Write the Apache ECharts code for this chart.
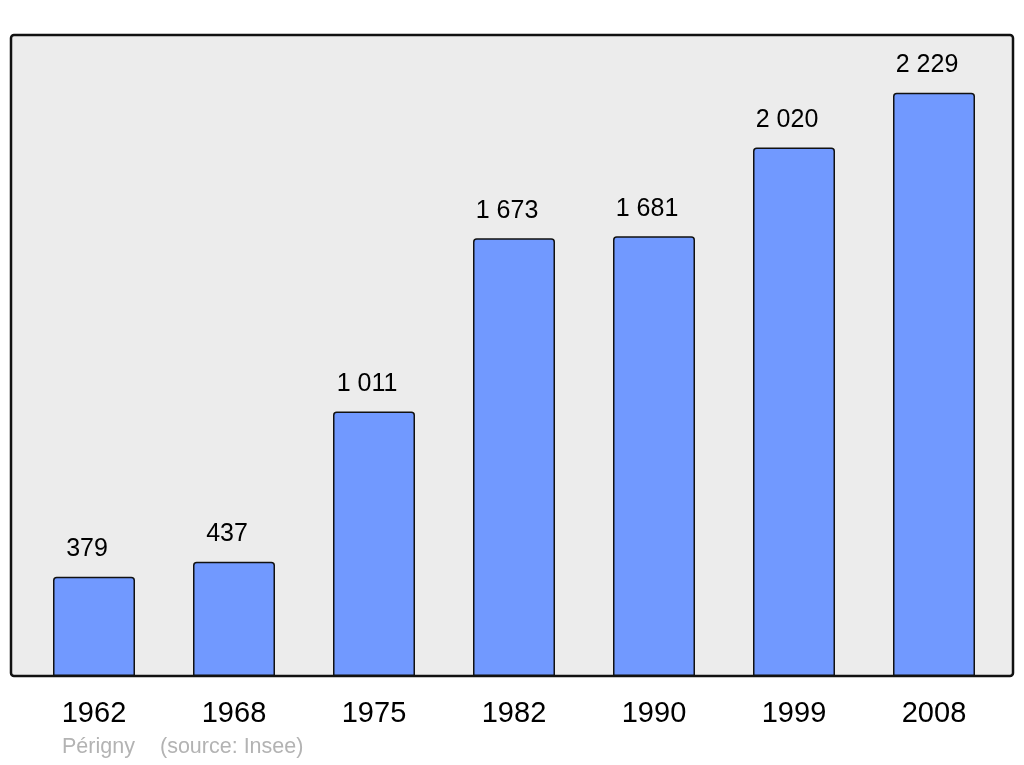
<!DOCTYPE html>
<html><head><meta charset="utf-8">
<script src="https://cdn.jsdelivr.net/npm/echarts@6/dist/echarts.min.js"></script>
<style>html,body{margin:0;padding:0;background:#fff;}#c{width:1024px;height:765px;}</style>
</head><body><div id="c"></div>
<script>
const years = ['1962','1968','1975','1982','1990','1999','2008'];
const population = [379, 437, 1011, 1673, 1681, 2020, 2229];
const footerPlace = 'Périgny';
const footerSource = '(source: Insee)';

function fmt(v){ return String(v).replace(/\B(?=(\d{3})+(?!\d))/g, ' '); }

const chart = echarts.init(document.getElementById('c'));
chart.setOption({
  animation: false,
  textStyle: { fontFamily: '"Liberation Sans", Arial, sans-serif' },
  grid: { left: 24, right: 20, top: 35, bottom: 89 },
  xAxis: {
    type: 'category', data: years,
    axisLine: { show: false }, axisTick: { show: false },
    axisLabel: { fontSize: 29, color: '#000', margin: 23, fontFamily: '"Liberation Sans", Arial, sans-serif' }
  },
  yAxis: { type: 'value', min: 0, max: 2450, show: false, splitLine: { show: false } },
  graphic: [
    { type: 'rect', z: -10, shape: { x: 11, y: 35, width: 1002, height: 641, r: 3 },
      style: { fill: '#ececec', stroke: '#111', lineWidth: 2.5 } },
    { type: 'text', left: 62, top: 736, style: { text: footerPlace, fill: '#b3b3b3', font: '21.5px "Liberation Sans", Arial, sans-serif' } },
    { type: 'text', left: 160, top: 736, style: { text: footerSource, fill: '#b3b3b3', font: '21.5px "Liberation Sans", Arial, sans-serif' } }
  ],
  series: [{
    type: 'bar', data: population, barWidth: 82,
    itemStyle: { color: '#7199ff', borderColor: '#111', borderWidth: 1.5, borderRadius: [3,3,0,0] },
    label: { show: true, position: 'top', distance: 15, offset: [-7, 0], fontSize: 25, color: '#000',
      formatter: p => fmt(p.value) }
  }]
});
</script></body></html>
